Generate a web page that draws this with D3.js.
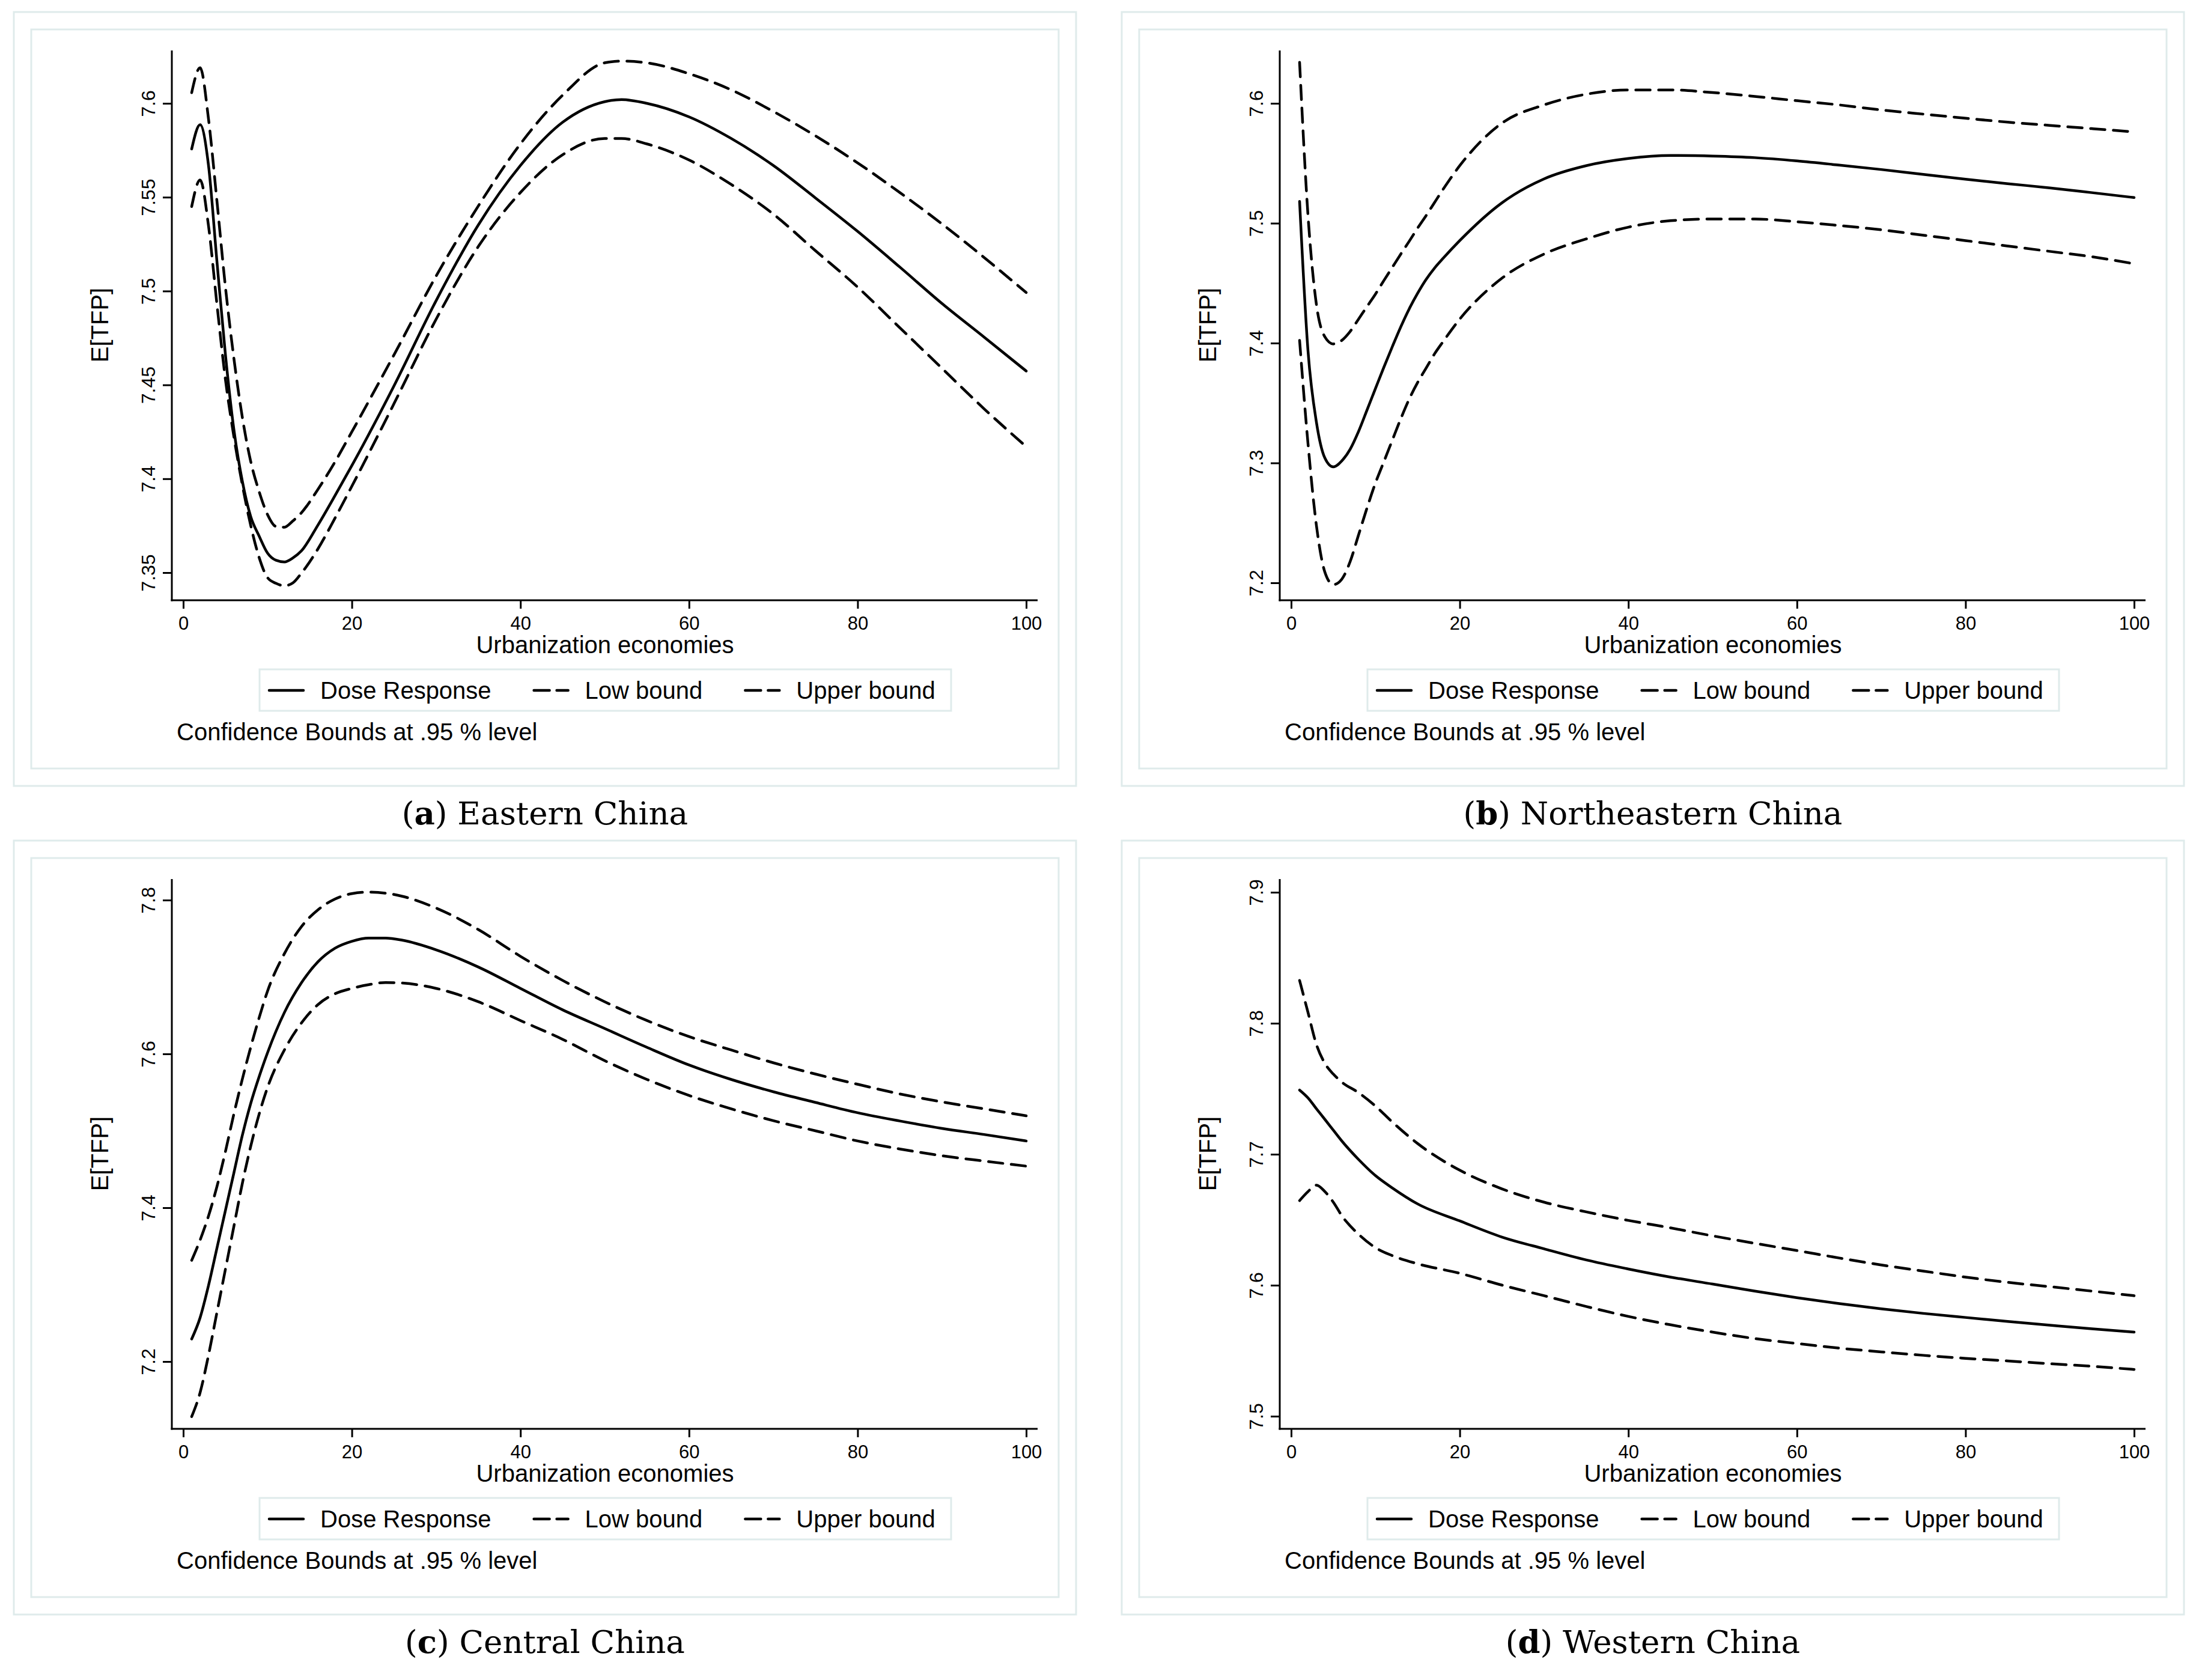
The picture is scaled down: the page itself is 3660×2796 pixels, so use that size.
<!DOCTYPE html>
<html>
<head>
<meta charset="utf-8">
<script src="https://cdn.jsdelivr.net/npm/d3@7"></script>
<style>
  body { margin: 0; background: #fff; }
  text { font-family: "Liberation Sans", Arial, Helvetica, sans-serif; fill: #000; }
</style>
</head>
<body>
<svg width="3660" height="2796"></svg>
<script>
// ---- data (x = urbanization economies) ----
var xsA   = [1,2,3,4,5,6,7,8,9,10,11,12,13,14,16,18,20,25,30,35,40,45,50,52,55,60,65,70,75,80,85,90,95,100];
var doseA = [7.5757,7.5886,7.5668,7.5156,7.4663,7.4264,7.3989,7.3799,7.3695,7.3604,7.3566,7.3557,7.3578,7.3615,7.3755,7.391,7.407,7.4495,7.4949,7.5352,7.5669,7.5899,7.6009,7.602,7.6,7.5928,7.5813,7.5669,7.5496,7.5318,7.5128,7.4934,7.4755,7.4574];
var lowA  = [7.545,7.5592,7.5346,7.4928,7.453,7.4226,7.397,7.3752,7.3581,7.3473,7.3443,7.343,7.3445,7.3496,7.3628,7.379,7.396,7.44,7.485,7.5237,7.5525,7.5726,7.5813,7.5813,7.5784,7.5698,7.5568,7.541,7.5215,7.5021,7.4805,7.4589,7.4373,7.4171];
var upA   = [7.6057,7.619,7.5915,7.5478,7.5023,7.4644,7.433,7.4093,7.3932,7.3809,7.3746,7.3742,7.3775,7.3818,7.3945,7.409,7.425,7.466,7.508,7.5453,7.5784,7.6043,7.6216,7.6225,7.6216,7.6158,7.6072,7.5957,7.5827,7.5683,7.5525,7.5358,7.5179,7.4992];
var ticksA = [7.35,7.4,7.45,7.5,7.55,7.6];

var xsB   = [1,2,3,4,5,6,7,8,9,10,11,12,13,14,15,16,17,18,20,25,30,35,40,45,50,55,60,65,70,75,80,85,90,95,100];
var doseB = [7.5182,7.3933,7.3338,7.3041,7.2967,7.3017,7.3115,7.3264,7.3442,7.3621,7.3799,7.397,7.4135,7.4285,7.4415,7.453,7.4625,7.4705,7.4855,7.517,7.537,7.548,7.554,7.5565,7.556,7.5547,7.552,7.5485,7.5448,7.5407,7.5367,7.533,7.5295,7.5255,7.5214];
var lowB  = [7.4022,7.316,7.2476,7.2089,7.1985,7.203,7.2178,7.2401,7.2625,7.2833,7.3011,7.319,7.3368,7.3532,7.3671,7.379,7.3909,7.401,7.42,7.4541,7.4743,7.4869,7.4967,7.5021,7.5035,7.5035,7.5012,7.4981,7.4945,7.49,7.4855,7.481,7.4765,7.472,7.4662];
var upB   = [7.6342,7.5063,7.432,7.4052,7.3993,7.4022,7.4097,7.4201,7.4305,7.4409,7.4522,7.4632,7.4742,7.4849,7.4959,7.5063,7.5172,7.528,7.548,7.5835,7.5987,7.6076,7.6112,7.6112,7.609,7.6058,7.6022,7.5987,7.5945,7.591,7.5876,7.5843,7.5816,7.5789,7.5762];
var ticksB = [7.2,7.3,7.4,7.5,7.6];

var xsC   = [1,2,3,4,5,6,7,8,9,10,12,14,16,18,20,22,24,26,30,35,40,45,50,55,60,65,70,75,80,85,90,95,100];
var doseC = [7.2293,7.257,7.299,7.3476,7.3963,7.445,7.4937,7.5355,7.5703,7.6016,7.6538,7.6921,7.72,7.7374,7.7464,7.7506,7.7506,7.7478,7.7353,7.713,7.6852,7.6573,7.633,7.6086,7.5856,7.5668,7.5508,7.5369,7.5235,7.5128,7.5032,7.4952,7.4868];
var lowC  = [7.1284,7.1597,7.2084,7.2641,7.3198,7.3754,7.4311,7.4798,7.5216,7.5564,7.6051,7.6399,7.6643,7.6782,7.6852,7.69,7.6928,7.6921,7.6852,7.6678,7.6434,7.619,7.5912,7.5668,7.546,7.5286,7.5132,7.5,7.4868,7.4764,7.4676,7.4607,7.4541];
var upC   = [7.3316,7.358,7.3894,7.4277,7.4729,7.5216,7.5668,7.6086,7.6469,7.6817,7.7304,7.7652,7.7875,7.8014,7.8084,7.8104,7.809,7.8049,7.7896,7.7617,7.7269,7.6956,7.6678,7.6434,7.6225,7.6051,7.5885,7.5738,7.5605,7.548,7.5376,7.5286,7.5195];
var ticksC = [7.2,7.4,7.6,7.8];

var xsD   = [1,2,3,4,5,6,8,10,12,15,20,25,30,35,40,45,50,55,60,65,70,75,80,85,90,95,100];
var doseD = [7.749,7.743,7.7347,7.7266,7.7184,7.7102,7.696,7.6837,7.6743,7.6621,7.6491,7.6368,7.6278,7.6193,7.6124,7.6062,7.6009,7.5955,7.5905,7.586,7.582,7.5785,7.5754,7.5724,7.5695,7.5667,7.5642];
var lowD  = [7.6646,7.6715,7.6764,7.6715,7.6634,7.6532,7.6389,7.6287,7.6226,7.6164,7.6091,7.6001,7.592,7.5838,7.5762,7.5698,7.5642,7.5593,7.5555,7.552,7.5491,7.5465,7.5442,7.5422,7.5401,7.5381,7.5357];
var upD   = [7.8327,7.8082,7.7837,7.7694,7.7612,7.7551,7.747,7.7368,7.7246,7.7082,7.6878,7.6736,7.6634,7.656,7.6495,7.6438,7.6377,7.632,7.6265,7.6208,7.6155,7.6108,7.6062,7.6022,7.5989,7.5955,7.592];
var ticksD = [7.5,7.6,7.7,7.8,7.9];

var xTicks = [0,20,40,60,80,100];
var legendLabels = ["Dose Response", "Low bound", "Upper bound"];
var letters = ["a","b","c","d"];
var regions = ["Eastern China", "Northeastern China", "Central China", "Western China"];

// ---- layout ----
var frameColor = "#dfebeb";
var panels = [
  {xs: xsA, dose: doseA, low: lowA, up: upA, ticks: ticksA, dx: 0,    dy: 0,    yPx: [953, 172]},
  {xs: xsB, dose: doseB, low: lowB, up: upB, ticks: ticksB, dx: 1844, dy: 0,    yPx: [970, 172]},
  {xs: xsC, dose: doseC, low: lowC, up: upC, ticks: ticksC, dx: 0,    dy: 1379, yPx: [887, 119]},
  {xs: xsD, dose: doseD, low: lowD, up: upD, ticks: ticksD, dx: 1844, dy: 1379, yPx: [978, 106]}
];

var svg = d3.select("svg");
svg.append("rect").attr("width", 3660).attr("height", 2796).attr("fill", "#fff");

var x = d3.scaleLinear().domain([0, 100]).range([305, 1708]);
var axisLeftX = 286, axisTop = 84, axisBottomY = 999, axisRight = 1727;

panels.forEach(function(p, i) {
  var g = svg.append("g").attr("transform", "translate(" + p.dx + "," + p.dy + ")");

  // light frames (outer + inner)
  g.append("rect").attr("x", 23).attr("y", 20).attr("width", 1768).attr("height", 1288)
    .attr("fill", "none").attr("stroke", frameColor).attr("stroke-width", 3);
  g.append("rect").attr("x", 52).attr("y", 49).attr("width", 1710).attr("height", 1230)
    .attr("fill", "none").attr("stroke", frameColor).attr("stroke-width", 3);

  var lo = p.ticks[0], hi = p.ticks[p.ticks.length - 1];
  var y = d3.scaleLinear().domain([lo, hi]).range(p.yPx);

  // y axis
  var ya = g.append("g").attr("transform", "translate(" + axisLeftX + ",0)")
    .call(d3.axisLeft(y).tickValues(p.ticks).tickSize(15).tickSizeOuter(0)
      .tickFormat(function(d) { return String(+d.toFixed(2)); }));
  ya.select(".domain").remove();
  ya.selectAll(".tick line").attr("stroke", "#000").attr("stroke-width", 3);
  ya.selectAll(".tick text")
    .attr("x", 0).attr("dy", 0)
    .attr("transform", "translate(-28,0) rotate(-90)")
    .attr("text-anchor", "middle")
    .style("font-size", "32px")
    .style("font-family", "'Liberation Sans', Arial, sans-serif");
  g.append("line").attr("x1", axisLeftX).attr("x2", axisLeftX)
    .attr("y1", axisTop).attr("y2", axisBottomY + 1.5)
    .attr("stroke", "#000").attr("stroke-width", 3);

  // x axis
  var xa = g.append("g").attr("transform", "translate(0," + axisBottomY + ")")
    .call(d3.axisBottom(x).tickValues(xTicks).tickSize(14).tickPadding(13).tickSizeOuter(0));
  xa.select(".domain").remove();
  xa.selectAll(".tick line").attr("stroke", "#000").attr("stroke-width", 3);
  xa.selectAll(".tick text").style("font-size", "31px")
    .style("font-family", "'Liberation Sans', Arial, sans-serif");
  g.append("line").attr("x1", axisLeftX - 1.5).attr("x2", axisRight)
    .attr("y1", axisBottomY).attr("y2", axisBottomY)
    .attr("stroke", "#000").attr("stroke-width", 3);

  // axis titles
  g.append("text").attr("transform", "translate(180,541) rotate(-90)")
    .attr("text-anchor", "middle").style("font-size", "40px").text("E[TFP]");
  g.append("text").attr("x", 1007).attr("y", 1087)
    .attr("text-anchor", "middle").style("font-size", "40px").text("Urbanization economies");

  // curves
  var series = [
    {vals: p.dose, dash: null},
    {vals: p.low,  dash: "24,14"},
    {vals: p.up,   dash: "24,14"}
  ];
  var line = d3.line()
    .x(function(d) { return x(d[0]); })
    .y(function(d) { return y(d[1]); })
    .curve(d3.curveMonotoneX);
  series.forEach(function(s) {
    var pts = p.xs.map(function(v, k) { return [v, s.vals[k]]; });
    g.append("path").datum(pts).attr("d", line)
      .attr("fill", "none").attr("stroke", "#000").attr("stroke-width", 4.5)
      .attr("stroke-linecap", "round").attr("stroke-linejoin", "round")
      .attr("stroke-dasharray", s.dash);
  });

  // legend
  g.append("rect").attr("x", 432).attr("y", 1114).attr("width", 1151).attr("height", 69)
    .attr("fill", "#fff").attr("stroke", frameColor).attr("stroke-width", 3);
  var lx = 445;
  legendLabels.forEach(function(lab, k) {
    g.append("line").attr("x1", lx + 3).attr("x2", lx + 60).attr("y1", 1149).attr("y2", 1149)
      .attr("stroke", "#000").attr("stroke-width", 4.5).attr("stroke-linecap", "round")
      .attr("stroke-dasharray", k === 0 ? null : "26,12");
    var t = g.append("text").attr("x", lx + 88).attr("y", 1163)
      .style("font-size", "40px").text(lab);
    lx = lx + 88 + t.node().getComputedTextLength() + 68;
  });
  g.append("text").attr("x", 294).attr("y", 1232).style("font-size", "40px")
    .text("Confidence Bounds at .95 % level");

  // caption
  var cap = g.append("text").attr("x", 907).attr("y", 1372).attr("text-anchor", "middle")
    .style("font-family", "'DejaVu Serif', 'Liberation Serif', serif").style("font-size", "53px");
  cap.append("tspan").text("(");
  cap.append("tspan").style("font-weight", "bold").text(letters[i]);
  cap.append("tspan").text(") " + regions[i]);
});
</script>
</body>
</html>
